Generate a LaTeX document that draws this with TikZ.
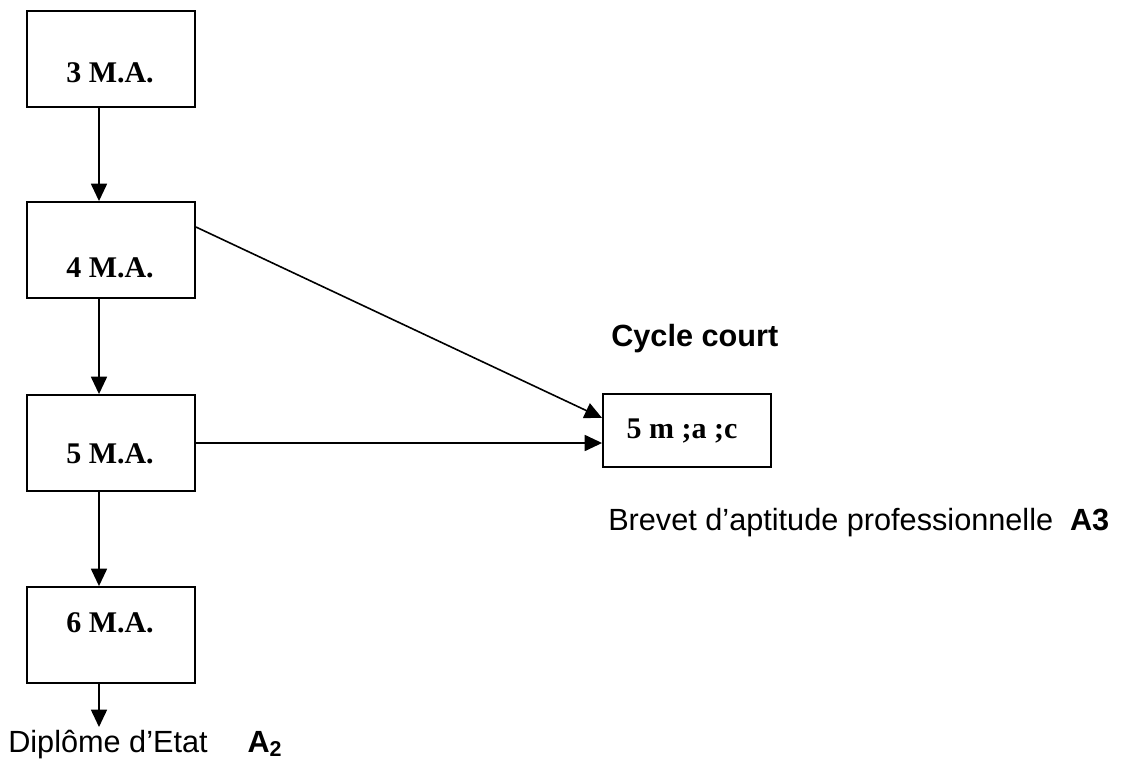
\documentclass[tikz,border=0pt]{standalone}
\usepackage{fontspec}
\setmainfont{Liberation Serif}
\newfontfamily\arialfont{Liberation Sans}
\usetikzlibrary{arrows.meta}

\begin{document}
\begin{tikzpicture}[x=0.75pt,y=-0.75pt,
		mabox/.style={draw,line width=1.4pt,minimum width=126pt,minimum height=72pt,inner sep=0pt},
		matext/.style={font=\fontsize{22.5}{26}\selectfont\bfseries,anchor=base,inner sep=0pt},
		note/.style={font=\arialfont\fontsize{23}{27}\selectfont,anchor=base west,inner sep=0pt},
		notebold/.style={note,font=\arialfont\bfseries\fontsize{23}{27}\selectfont},
		arr/.style={line width=1.2pt,-{Triangle[length=13pt,width=12pt]}}]
				%%%%% START %%%%%
				\useasboundingbox (0,0) rectangle (1138,764);
				
				\node[mabox] (ma3) at (111,59) {};
				\node[matext] (t3) at (110,82) {3 M.A.};
				
				\node[mabox] (ma4) at (111,250) {};
				\node[matext] (t4) at (110,277) {4 M.A.};
				
				\node[mabox] (ma5) at (111,443) {};
				\node[matext] (t5) at (110,463) {5 M.A.};
				
				\node[mabox] (ma6) at (111,635) {};
				\node[matext] (t6) at (110,632) {6 M.A.};
				
				\node[mabox,minimum height=54.75pt] (mac) at (687,430.5) {};
				\node[matext] (tc) at (682,438) {5 m ;a ;c};
				
				\node[notebold] (cc) at (611,346) {Cycle court};
				\node[note] (bap) at (608,530) {Brevet d’aptitude professionnelle\hspace{0.55em}\textbf{A3}};
				\node[note] (dip) at (8,752) {Diplôme d’Etat\hspace{1.3em}\textbf{A\textsubscript{2}}};
				\coordinate (dend) at (99,727);
				
				\draw[arr] ([xshift=-9pt]ma3.south) -- ([xshift=-9pt]ma4.north);
				\draw[arr] ([xshift=-9pt]ma4.south) -- ([xshift=-9pt]ma5.north);
				\draw[arr] ([xshift=-9pt]ma5.south) -- ([xshift=-9pt]ma6.north);
				\draw[arr] ([xshift=-9pt]ma6.south) -- (dend);
				
				\draw[arr] ([yshift=17.25pt]ma4.east) -- ([yshift=9.4pt]mac.west);
				\draw[arr] (ma5.east) -- (ma5.east -| mac.west);
				%%%%% END %%%%%
			\end{tikzpicture}
\end{document}
